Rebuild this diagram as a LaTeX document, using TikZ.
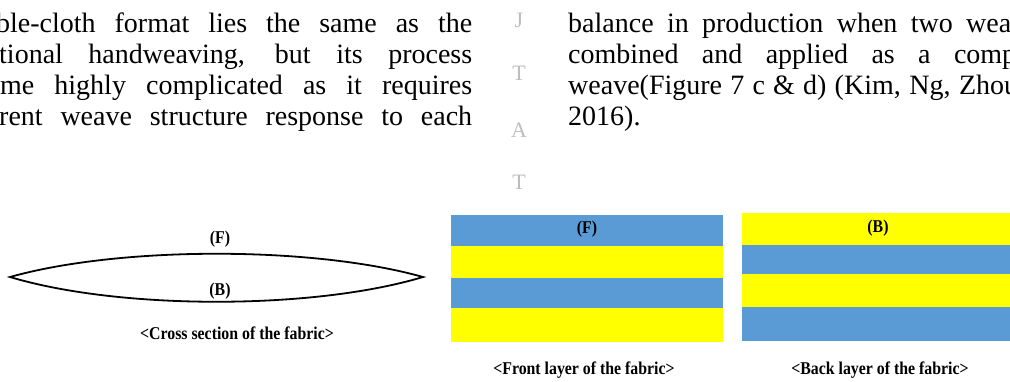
\documentclass[tikz,border=0pt]{standalone}
\usepackage{fontspec}
\setmainfont{Liberation Serif}
\usetikzlibrary{positioning}
\definecolor{wblue}{HTML}{5B9BD5}
\definecolor{wyellow}{HTML}{FFFF00}
\definecolor{mgray}{HTML}{BDBDBD}
\tikzset{
  body/.style={anchor=base west,inner sep=0pt,font=\fontsize{28}{31}\selectfont},
  sidelet/.style={inner sep=0pt,text=mgray,font=\fontsize{22}{24}\selectfont},
  lbl/.style={inner sep=0pt,font=\fontsize{18}{20}\selectfont\bfseries},
  capt/.style={inner sep=0pt,font=\fontsize{18}{20}\selectfont\bfseries},
  lens/.style={line width=1.8pt,line join=miter},
}
\newcommand{\narrow}[1]{\scalebox{0.88}[1]{#1}}
\begin{document}
\begin{tikzpicture}[x=1pt,y=1pt]
\useasboundingbox (0,0) rectangle (1010,-381);
\clip (0,0) rectangle (1010,-381);
% running text, left column
\node[body] (l1) at (-4,-32) {\makebox[476pt][s]{ble-cloth format lies the same as the}};
\node[body] (l2) at (-1,-63) {\makebox[473pt][s]{tional handweaving, but its process}};
\node[body] (l3) at (0,-94) {\makebox[472pt][s]{me highly complicated as it requires}};
\node[body] (l4) at (-1,-125) {\makebox[473pt][s]{rent weave structure response to each}};
% running text, right column
\node[body] (r1) at (568,-32) {\makebox[443pt][s]{balance in production when two wea}};
\node[body] (r2) at (568,-63) {\makebox[448pt][s]{combined and applied as a comp}};
\node[body] (r3) at (568,-94) {\makebox[450pt][s]{weave(Figure 7 c \& d) (Kim, Ng, Zhou}};
\node[body] (r4) at (568,-125) {2016).};
% margin letters
\foreach \c/\yy [count=\k] in {J/20,T/73,A/130,T/182}
  \node[sidelet] (m\k) at (519,-\yy) {\c};
% cross section
\draw[lens] (10,-277) .. controls (120,-246) and (313,-246) .. (423,-277)
  .. controls (313,-310) and (120,-310) .. cycle;
\node[lbl] (secF) at (220,-239) {\narrow{(F)}};
\node[lbl] (secB) at (220,-291) {\narrow{(B)}};
\node[capt] (secC) at (237,-333) {\narrow{<Cross section of the fabric>}};
% front layer
\foreach \ya/\yb/\col in {215/246/wblue,246/278/wyellow,278/308/wblue,308/342/wyellow}
  \fill[\col] (451,-\ya) rectangle (723,-\yb);
\node[lbl] (frF) at (587,-229) {\narrow{(F)}};
\node[capt] (frC) at (584,-370) {\narrow{<Front layer of the fabric>}};
% back layer
\foreach \ya/\yb/\col in {213/245/wyellow,245/274/wblue,274/307/wyellow,307/341/wblue}
  \fill[\col] (742,-\ya) rectangle (1014,-\yb);
\node[lbl] (bkB) at (878,-228) {\narrow{(B)}};
\node[capt] (bkC) at (880,-370) {\narrow{<Back layer of the fabric>}};
\end{tikzpicture}
\end{document}
